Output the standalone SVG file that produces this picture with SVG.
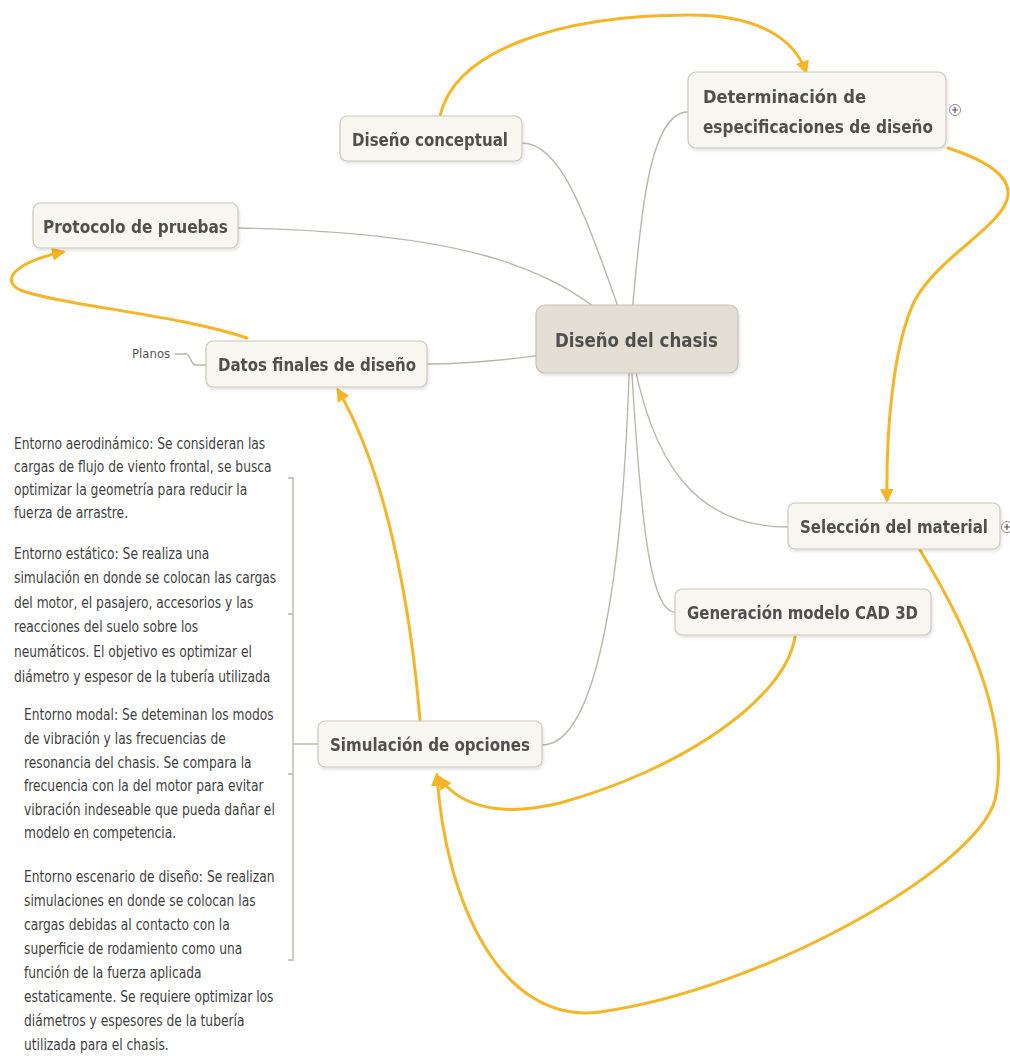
<svg xmlns="http://www.w3.org/2000/svg" width="1010" height="1059" viewBox="0 0 1010 1059">
  <style>
    .topic { fill: #f8f6f1; stroke: #cdc8bd; stroke-width: 1.2; }
    .central { fill: #e4dfd4; stroke: #c8c2b6; stroke-width: 1.2; }
    .label { font-family: "DejaVu Sans Condensed", "DejaVu Sans", sans-serif; font-weight: bold; font-size: 18.5px; fill: #505050; }
    .clabel { font-family: "DejaVu Sans Condensed", "DejaVu Sans", sans-serif; font-weight: bold; font-size: 19.5px; fill: #505050; }
    .note { font-family: "DejaVu Sans Condensed", "DejaVu Sans", sans-serif; font-size: 15px; fill: #3f3f3f; }
    .small { font-family: "DejaVu Sans Condensed", "DejaVu Sans", sans-serif; font-size: 13px; fill: #555; }
    .branch { fill: none; stroke: #bdb7ab; stroke-width: 1.4; }
    .rel { fill: none; stroke: #f4b526; stroke-width: 3; stroke-linecap: round; }
    .expander { fill: #fff; stroke: #8a8a8a; stroke-width: 1; }
  </style>
  <defs>
    <marker id="arrow" viewBox="0 0 10 10" refX="8" refY="5" markerWidth="4.5" markerHeight="4.5" orient="auto" markerUnits="strokeWidth">
      <path d="M0,0 L10,5 L0,10 Z" fill="#f4b526"/>
    </marker>
    <filter id="shadow" x="-10%" y="-20%" width="120%" height="150%">
      <feDropShadow dx="1" dy="2" stdDeviation="1.5" flood-color="#000" flood-opacity="0.12"/>
    </filter>
  </defs>
  <rect width="1010" height="1059" fill="#ffffff"/>

  <!-- branch lines from the central topic -->
  <g id="connectors">
    <path class="branch" d="M630,340 C 590,230 565,143 522,143"/>
    <path class="branch" d="M630,340 C 640,210 650,112 688,112"/>
    <path class="branch" d="M630,340 C 560,262 450,232 238,228"/>
    <path class="branch" d="M630,340 C 560,355 480,364 427,364"/>
    <path class="branch" d="M630,340 C 650,470 700,527 788,527"/>
    <path class="branch" d="M630,340 C 640,520 650,612 675,612"/>
    <path class="branch" d="M630,340 C 625,560 600,745 542,745"/>
    <!-- Planos sub-topic -->
    <path class="branch" d="M175,354 H186 C191,354 190,365 196,365 H206"/>
    <!-- note bracket of Simulación de opciones -->
    <path class="branch" d="M288,478 H293 V960 H288 M288,614 H293 M288,774 H293 M293,744 H318"/>

    <!-- relationship arrows -->
    <path class="rel" marker-end="url(#arrow)" d="M440,116 C 455,50 560,15 690,15 C 760,15 795,40 806,72"/>
    <path class="rel" marker-end="url(#arrow)" d="M948,148 C 985,160 1010,175 1008,195 C 1005,225 940,255 915,300 C 893,345 886,430 887,500"/>
    <path class="rel" marker-end="url(#arrow)" d="M920,550 C 975,640 1010,730 995,800 C 975,870 760,990 600,1012 C 500,1025 445,900 437,775"/>
    <path class="rel" marker-end="url(#arrow)" d="M795,637 C 785,700 680,770 560,803 C 490,820 455,800 440,778"/>
    <path class="rel" marker-end="url(#arrow)" d="M420,720 C 410,600 385,470 338,390"/>
    <path class="rel" marker-end="url(#arrow)" d="M247,338 C 180,315 60,305 20,290 C 0,280 15,262 63,252"/>
  </g>

  <g id="central" filter="url(#shadow)">
    <rect class="central" x="536" y="305" width="202" height="68" rx="9"/>
    <text class="clabel" x="555" y="347" textLength="163" lengthAdjust="spacingAndGlyphs">Diseño del chasis</text>
  </g>

  <g id="disenoConceptual" filter="url(#shadow)">
    <rect class="topic" x="340" y="116" width="182" height="45" rx="7"/>
    <text class="label" x="352" y="146" textLength="156" lengthAdjust="spacingAndGlyphs">Diseño conceptual</text>
  </g>

  <g id="determinacion" filter="url(#shadow)">
    <rect class="topic" x="688" y="72" width="258" height="76" rx="8"/>
    <text class="label" x="703" y="103" textLength="163" lengthAdjust="spacingAndGlyphs">Determinación de</text>
    <text class="label" x="703" y="133" textLength="230" lengthAdjust="spacingAndGlyphs">especificaciones de diseño</text>
  </g>
  <g id="determinacionExpander">
    <circle class="expander" cx="955" cy="110" r="5.5"/>
    <path d="M952,110 H958 M955,107 V113" stroke="#555" stroke-width="1.2"/>
  </g>

  <g id="protocolo" filter="url(#shadow)">
    <rect class="topic" x="33" y="203" width="205" height="45" rx="7"/>
    <text class="label" x="43" y="233" textLength="185" lengthAdjust="spacingAndGlyphs">Protocolo de pruebas</text>
  </g>

  <g id="datosFinales" filter="url(#shadow)">
    <rect class="topic" x="206" y="341" width="221" height="46" rx="7"/>
    <text class="label" x="218" y="371" textLength="198" lengthAdjust="spacingAndGlyphs">Datos finales de diseño</text>
  </g>

  <g id="planos">
    <text class="small" x="132" y="358">Planos</text>
  </g>

  <g id="seleccion" filter="url(#shadow)">
    <rect class="topic" x="788" y="503" width="212" height="46" rx="7"/>
    <text class="label" x="800" y="533" textLength="188" lengthAdjust="spacingAndGlyphs">Selección del material</text>
  </g>
  <g id="seleccionExpander">
    <circle class="expander" cx="1007" cy="527" r="5.5"/>
    <path d="M1004,527 H1010 M1007,524 V530" stroke="#555" stroke-width="1.2"/>
  </g>

  <g id="generacion" filter="url(#shadow)">
    <rect class="topic" x="675" y="589" width="256" height="46" rx="7"/>
    <text class="label" x="687" y="619" textLength="231" lengthAdjust="spacingAndGlyphs">Generación modelo CAD 3D</text>
  </g>

  <g id="simulacion" filter="url(#shadow)">
    <rect class="topic" x="318" y="721" width="224" height="46" rx="7"/>
    <text class="label" x="330" y="751" textLength="200" lengthAdjust="spacingAndGlyphs">Simulación de opciones</text>
  </g>

  <!-- notes attached to Simulación de opciones (narrowed type) -->
  <g id="notaAerodinamico" transform="translate(14,0) scale(0.91,1)">
    <text class="note" x="0" y="449">Entorno aerodinámico: Se consideran las</text>
    <text class="note" x="0" y="472">cargas de flujo de viento frontal, se busca</text>
    <text class="note" x="0" y="495">optimizar la geometría para reducir la</text>
    <text class="note" x="0" y="518">fuerza de arrastre.</text>
  </g>
  <g id="notaEstatico" transform="translate(14,0) scale(0.91,1)">
    <text class="note" x="0" y="559">Entorno estático: Se realiza una</text>
    <text class="note" x="0" y="583">simulación en donde se colocan las cargas</text>
    <text class="note" x="0" y="608">del motor, el pasajero, accesorios y las</text>
    <text class="note" x="0" y="632">reacciones del suelo sobre los</text>
    <text class="note" x="0" y="657">neumáticos. El objetivo es optimizar el</text>
    <text class="note" x="0" y="682">diámetro y espesor de la tubería utilizada</text>
  </g>
  <g id="notaModal" transform="translate(24,0) scale(0.91,1)">
    <text class="note" x="0" y="720">Entorno modal: Se deteminan los modos</text>
    <text class="note" x="0" y="744">de vibración y las frecuencias de</text>
    <text class="note" x="0" y="768">resonancia del chasis. Se compara la</text>
    <text class="note" x="0" y="791">frecuencia con la del motor para evitar</text>
    <text class="note" x="0" y="815">vibración indeseable que pueda dañar el</text>
    <text class="note" x="0" y="838">modelo en competencia.</text>
  </g>
  <g id="notaEscenario" transform="translate(24,0) scale(0.91,1)">
    <text class="note" x="0" y="882">Entorno escenario de diseño: Se realizan</text>
    <text class="note" x="0" y="906">simulaciones en donde se colocan las</text>
    <text class="note" x="0" y="930">cargas debidas al contacto con la</text>
    <text class="note" x="0" y="954">superficie de rodamiento como una</text>
    <text class="note" x="0" y="978">función de la fuerza aplicada</text>
    <text class="note" x="0" y="1002">estaticamente. Se requiere optimizar los</text>
    <text class="note" x="0" y="1026">diámetros y espesores de la tubería</text>
    <text class="note" x="0" y="1050">utilizada para el chasis.</text>
  </g>
</svg>
